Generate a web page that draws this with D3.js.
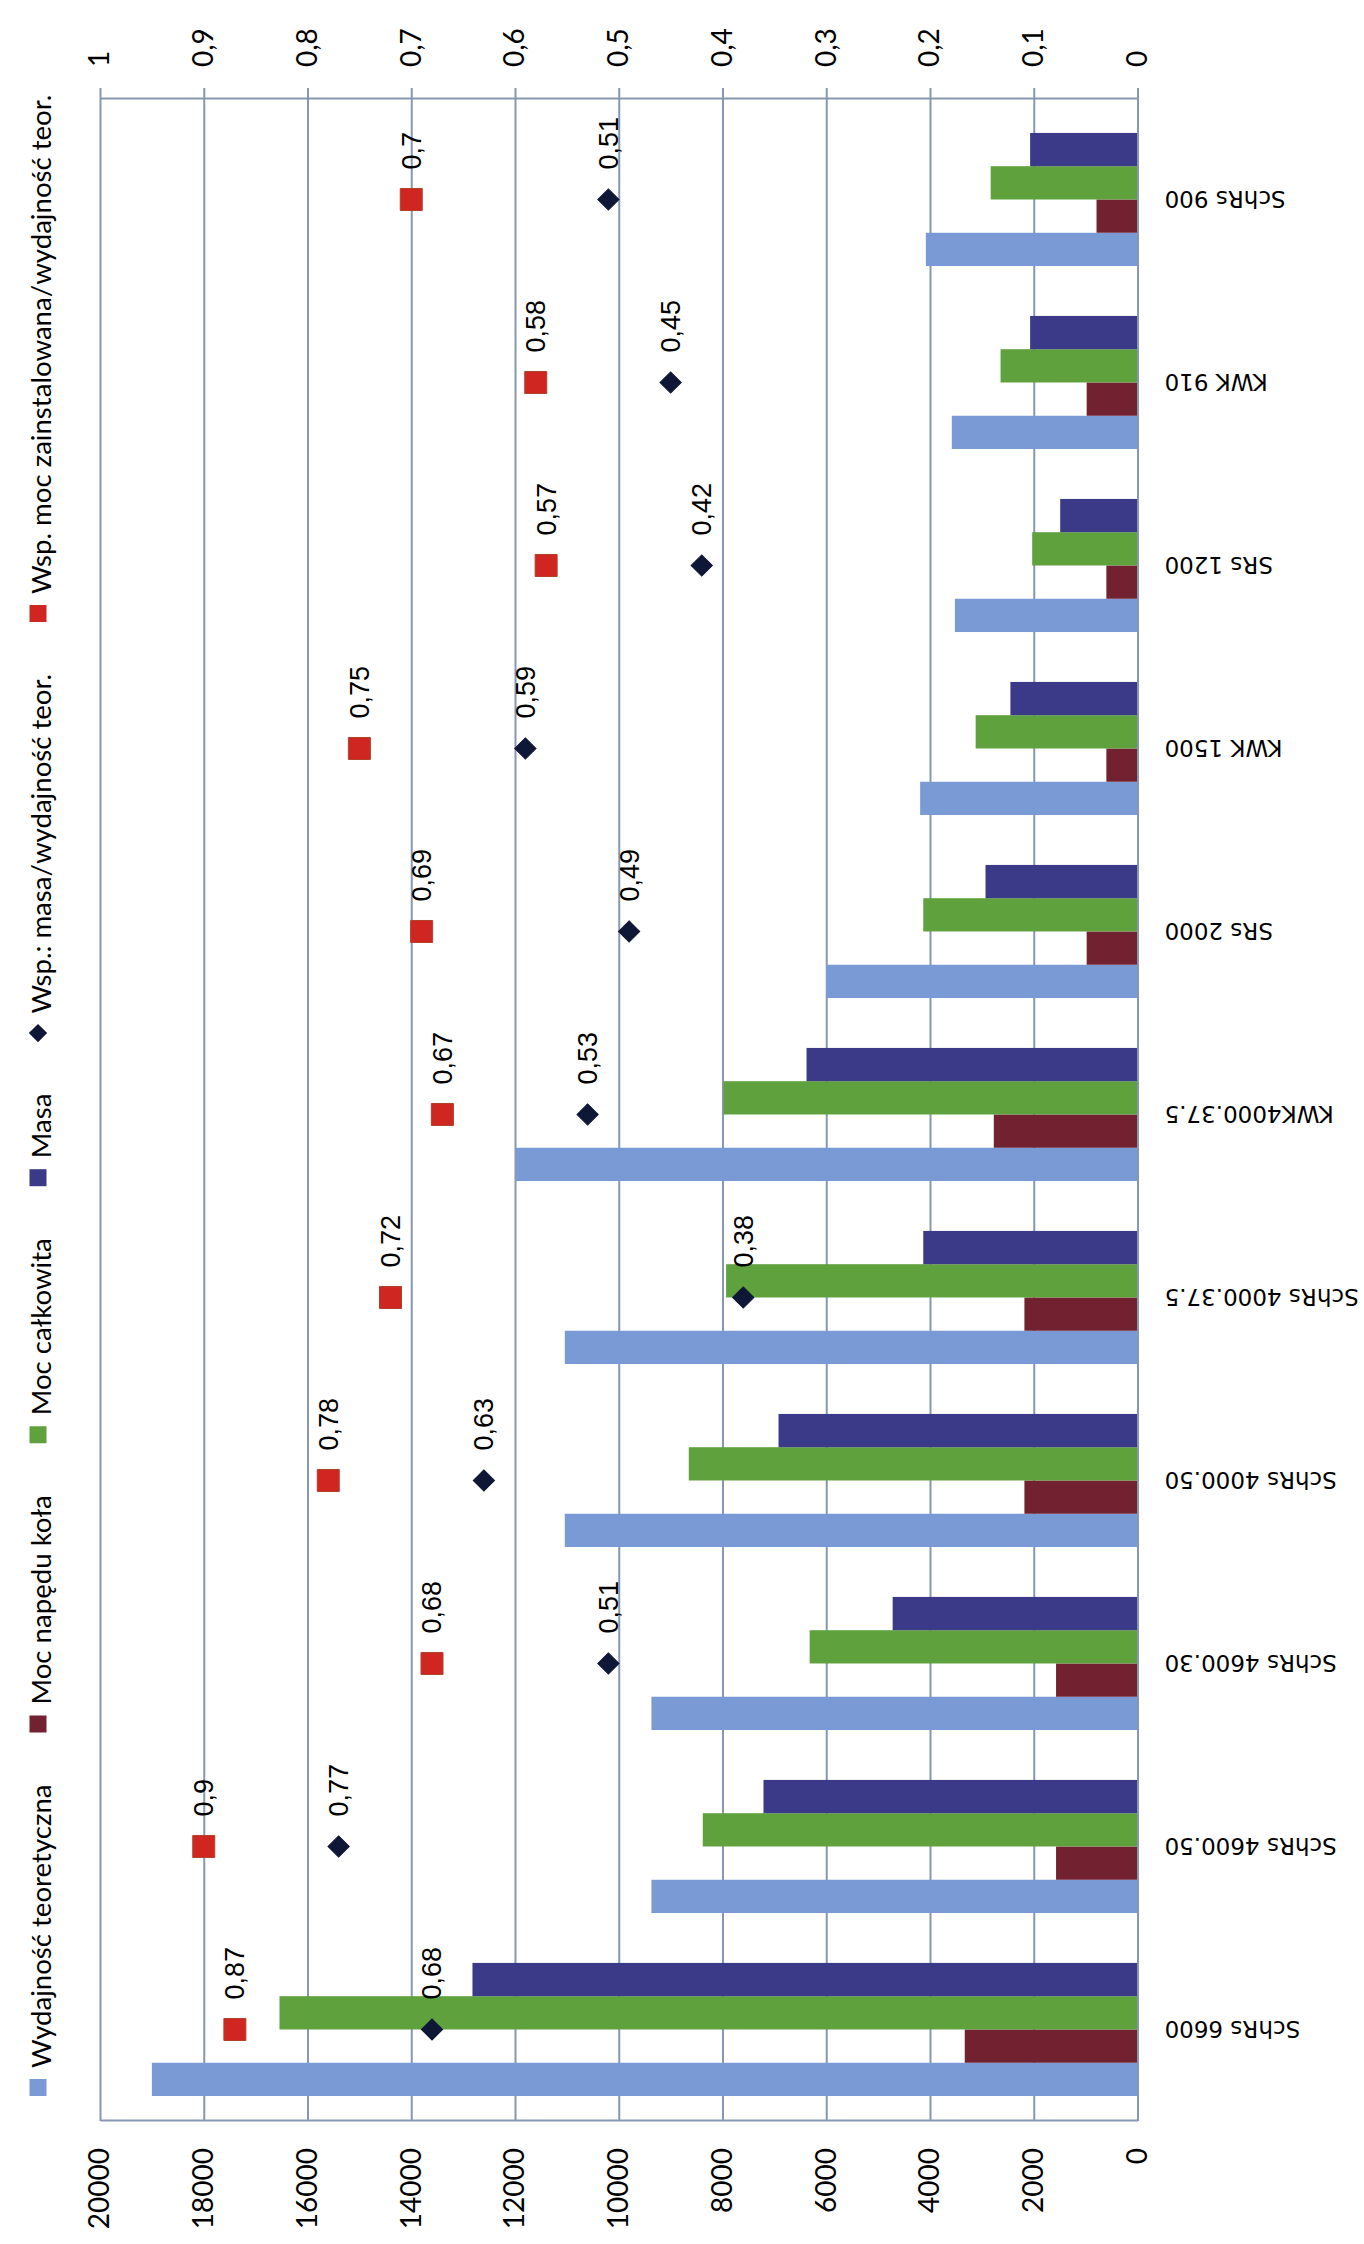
<!DOCTYPE html>
<html>
<head>
<meta charset="utf-8">
<script src="https://cdn.jsdelivr.net/npm/d3@7"></script>
<style>
  body { margin: 0; background: #fff; }
  svg { display: block; }
</style>
</head>
<body>
<div id="chart"></div>
<script>
// Data
const categories = ["SchRs 6600", "SchRs 4600.50", "SchRs 4600.30", "SchRs 4000.50", "SchRs 4000.37.5",
    "KWK4000.37.5", "SRs 2000", "KWK 1500", "SRs 1200", "KWK 910", "SchRs 900"];
const wydajnosc    = [19000, 9370, 9370, 11040, 11040, 11980, 6000, 4190, 3520, 3580, 4080];
const mocNapedu    = [3330, 1570, 1570, 2180, 2180, 2770, 980, 600, 600, 980, 790];
const mocCalkowita = [16540, 8380, 6320, 8650, 7930, 7980, 4130, 3120, 2030, 2640, 2830];
const masa         = [12820, 7210, 4720, 6920, 4130, 6380, 2930, 2450, 1490, 2070, 2070];
const wspMasa      = [0.68, 0.77, 0.51, 0.63, 0.38, 0.53, 0.49, 0.59, 0.42, 0.45, 0.51];
const wspMoc       = [0.87, 0.9, 0.68, 0.78, 0.72, 0.67, 0.69, 0.75, 0.57, 0.58, 0.7];

const barNames = ["Wydajność teoretyczna", "Moc napędu koła", "Moc całkowita", "Masa"];
const barColors = ["#7a9ad6", "#722131", "#5ea13d", "#3b3a88"];
const barValues = [wydajnosc, mocNapedu, mocCalkowita, masa];
const ratioNames = ["Wsp.: masa/wydajność teor.", "Wsp. moc zainstalowana/wydajność teor."];

const leftTicks = [0, 2000, 4000, 6000, 8000, 10000, 12000, 14000, 16000, 18000, 20000];
const rightTicks = [0, 0.1, 0.2, 0.3, 0.4, 0.5, 0.6, 0.7, 0.8, 0.9, 1];

// The chart is drawn upright and then turned a quarter turn to the left
const W = 2244, H = 1364;
const plot = { left: 123, right: 2145, top: 100, bottom: 1137.5 };
const gridColor = "#8797b2";

const pl = d3.formatLocale({ decimal: ",", thousands: "", grouping: [3], currency: ["", ""] });
const fmt = pl.format("~g");

const svg = d3.select("#chart").append("svg")
    .attr("width", H)
    .attr("height", W);

const g = svg.append("g")
    .attr("transform", `translate(0,${W}) rotate(-90)`);

// scales
const x0 = d3.scaleBand()
    .domain(categories)
    .range([plot.left, plot.right])
    .paddingInner(1.5 / 5.5)
    .paddingOuter(0.161)
    .align(0.424);

const x1 = d3.scaleBand()
    .domain(barNames)
    .range([0, x0.bandwidth()]);

const y = d3.scaleLinear().domain([0, 20000]).range([plot.bottom, plot.top]);
const y2 = d3.scaleLinear().domain([0, 1]).range([plot.bottom, plot.top]);

// gridlines
const grid = g.append("g")
    .attr("transform", `translate(${plot.left},0)`)
    .call(d3.axisLeft(y).tickValues(leftTicks).tickSize(-(plot.right - plot.left)).tickFormat(""));
grid.select(".domain").remove();
grid.selectAll("line").attr("stroke", gridColor).attr("stroke-width", 2);

// left axis (values)
const axL = g.append("g")
    .attr("transform", `translate(${plot.left},0)`)
    .call(d3.axisLeft(y).tickValues(leftTicks).tickSize(0).tickPadding(27).tickFormat(d3.format("d")));
axL.select(".domain").attr("stroke", gridColor).attr("stroke-width", 2);
axL.selectAll("text").attr("font-family", "Lato, sans-serif").attr("font-size", 28).attr("fill", "#000");

// right axis (ratios)
const axR = g.append("g")
    .attr("transform", `translate(${plot.right},0)`)
    .call(d3.axisRight(y2).tickValues(rightTicks).tickSize(11).tickSizeOuter(0).tickPadding(21).tickFormat(fmt));
axR.selectAll(".domain, line").attr("stroke", gridColor).attr("stroke-width", 2);
axR.selectAll("text").attr("font-family", "Lato, sans-serif").attr("font-size", 28).attr("fill", "#000");

// bars
const groups = g.append("g").selectAll("g")
    .data(categories)
    .join("g")
    .attr("transform", d => `translate(${x0(d)},0)`);

groups.selectAll("rect")
    .data((c, i) => barNames.map((n, k) => ({ name: n, value: barValues[k][i], color: barColors[k] })))
    .join("rect")
    .attr("x", d => x1(d.name))
    .attr("width", x1.bandwidth())
    .attr("y", d => y(d.value))
    .attr("height", d => y(0) - y(d.value))
    .attr("fill", d => d.color);

// category axis
const axB = g.append("g")
    .attr("transform", `translate(0,${plot.bottom})`)
    .call(d3.axisBottom(x0).tickSize(0).tickSizeOuter(0));
axB.select(".domain").attr("stroke", gridColor).attr("stroke-width", 2);
axB.selectAll("text")
    .attr("transform", "rotate(-90)")
    .attr("x", -27)
    .attr("y", 0)
    .attr("dy", "0.35em")
    .attr("text-anchor", "end")
    .attr("font-family", "'DejaVu Sans', sans-serif")
    .attr("font-size", 23)
    .attr("fill", "#000");

// ratio markers + labels
const squareSym = d3.symbol(d3.symbolSquare, 22 * 22);
const diamondSym = d3.symbol(d3.symbolSquare, 15 * 15);
const cx = c => x0(c) + x0.bandwidth() / 2;

function drawRatio(values, kind) {
    const layer = g.append("g");
    const pts = categories.map((c, i) => ({ c, v: values[i] }));
    layer.selectAll("path")
        .data(pts)
        .join("path")
        .attr("transform", d => `translate(${cx(d.c)},${y2(d.v)})` + (kind === "diamond" ? " rotate(45)" : ""))
        .attr("d", kind === "diamond" ? diamondSym : squareSym)
        .attr("fill", kind === "diamond" ? "#0f1736" : "#d02622")
        .attr("stroke", kind === "diamond" ? "#0f1736" : "#b0402a")
        .attr("stroke-width", 1);
    layer.selectAll("text")
        .data(pts)
        .join("text")
        .attr("x", d => cx(d.c) + 30)
        .attr("y", d => y2(d.v))
        .attr("dy", "0.35em")
        .attr("font-family", "'Liberation Sans', Arial, sans-serif")
        .attr("font-size", 27)
        .attr("fill", "#000")
        .text(d => fmt(d.v));
}
drawRatio(wspMasa, "diamond");
drawRatio(wspMoc, "square");

// legend
const legendItems = [
    ...barNames.map((n, k) => ({ name: n, color: barColors[k], kind: "square" })),
    { name: ratioNames[0], color: "#0f1736", kind: "diamond" },
    { name: ratioNames[1], color: "#d02622", kind: "square" }
];
const legend = g.append("g").attr("transform", "translate(148,38)");
let lx = 0;
legendItems.forEach(it => {
    const m = 17;
    if (it.kind === "diamond") {
        legend.append("path")
            .attr("transform", `translate(${lx + m / 2},0) rotate(45)`)
            .attr("d", d3.symbol(d3.symbolSquare, 13 * 13))
            .attr("fill", it.color);
    } else {
        legend.append("rect")
            .attr("x", lx).attr("y", -m / 2)
            .attr("width", m).attr("height", m)
            .attr("fill", it.color);
    }
    const t = legend.append("text")
        .attr("x", lx + m + 11)
        .attr("y", 3)
        .attr("dy", "0.35em")
        .attr("font-family", "Lato, sans-serif")
        .attr("font-size", 27.6)
        .attr("fill", "#000")
        .text(it.name);
    lx = lx + m + 11 + t.node().getComputedTextLength() + 52;
});
</script>
</body>
</html>
